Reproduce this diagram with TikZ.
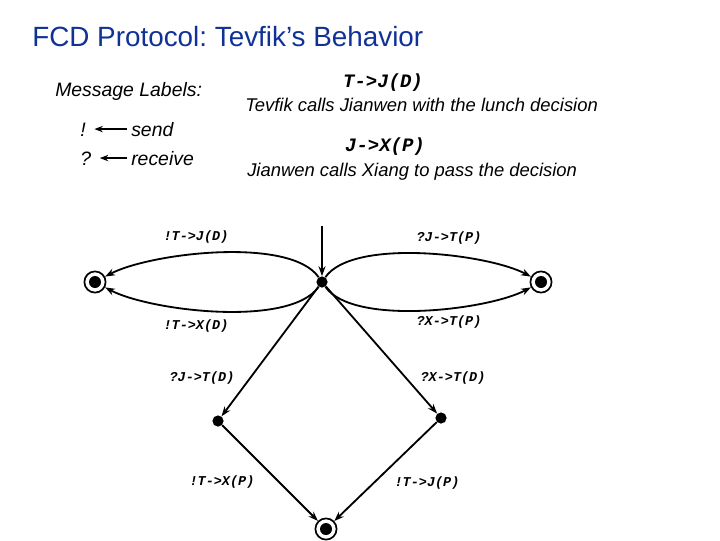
\documentclass[tikz,border=0pt]{standalone}
\usepackage{fontspec}
\setmainfont{Liberation Sans}
\newfontfamily\courier{Liberation Mono}
\usetikzlibrary{arrows.meta}
\definecolor{titleblue}{RGB}{16,50,150}
\frenchspacing

\tikzset{
  state/.style={circle, fill, inner sep=0pt, minimum size=0.28cm},
  final/.style={circle, draw, line width=1.2pt, inner sep=0pt, minimum size=0.53cm,
    path picture={\fill (path picture bounding box.center) circle (0.15cm);}},
  trans/.style={line width=1.3pt, -{Stealth[length=7pt,width=5pt]}},
  msg/.style={font=\courier\bfseries\itshape\fontsize{9.6}{11}\selectfont, inner sep=0pt},
  code/.style={font=\courier\bfseries\itshape\fontsize{13.5}{15}\selectfont, inner sep=0pt, anchor=base},
  txt/.style={font=\itshape\fontsize{13.1}{15}\selectfont, inner sep=0pt, anchor=base west},
  legend/.style={font=\itshape\fontsize{13.8}{16}\selectfont, inner sep=0pt, anchor=base west}
}

\begin{document}
\begin{tikzpicture}[x=0.025cm, y=0.025cm]
\useasboundingbox (0,0) rectangle (720,-540);

% title and legend
\node[inner sep=0pt, anchor=base west, text=titleblue, font=\fontsize{19.8}{22}\selectfont] (title) at (32,-46) {FCD Protocol: Tevfik’s Behavior};
\node[legend] (msglabels) at (55,-96) {Message Labels:};
\node[legend] (bang) at (80,-136) {!};
\node[legend] (send) at (131,-136) {send};
\node[legend] (quest) at (80,-165) {?};
\node[legend] (receive) at (131,-165) {receive};
\draw[line width=1pt, -{Stealth[length=6pt,width=4.5pt]}, shorten <=2.5pt, shorten >=6pt] (send.west) -- (bang.east |- send.west);
\draw[line width=1pt, -{Stealth[length=6pt,width=4.5pt]}, shorten <=2.5pt, shorten >=6pt] (receive.west) -- (quest.east |- receive.west);

\node[code] (tj) at (383,-87) {T->J(D)};
\node[txt] (tjtext) at (245,-111) {Tevfik calls Jianwen with the lunch decision};
\node[code] (jx) at (385,-151) {J->X(P)};
\node[txt] (jxtext) at (247,-176) {Jianwen calls Xiang to pass the decision};

% states
\coordinate (start) at (322,-226);
\node[state] (C) at (322,-282) {};
\node[final] (L) at (95,-282) {};
\node[final] (R) at (541,-282) {};
\node[state] (ML) at (218,-421) {};
\node[state] (MR) at (441,-418) {};
\node[final] (B) at (326,-529) {};

% transitions
\draw[trans] (start) -- (C);
\draw[trans] (C) to[out=125, in=28, looseness=0.6] (L);
\draw[trans] (C) to[out=235, in=-28, looseness=0.6] (L);
\draw[trans] (C) to[out=55, in=152, looseness=0.6] (R);
\draw[trans] (C) to[out=-55, in=208, looseness=0.6] (R);
\draw[trans] (C) -- (ML);
\draw[trans] (C) -- (MR);
\draw[trans] (ML) -- (B);
\draw[trans] (MR) -- (B);

\node[msg] (l1) at (196,-237) {!T->J(D)};
\node[msg] (l2) at (196,-326) {!T->X(D)};
\node[msg] (l3) at (449,-238) {?J->T(P)};
\node[msg] (l4) at (449,-322) {?X->T(P)};
\node[msg] (l5) at (202,-378) {?J->T(D)};
\node[msg] (l6) at (453,-378) {?X->T(D)};
\node[msg] (l7) at (222,-482) {!T->X(P)};
\node[msg] (l8) at (427,-483) {!T->J(P)};

\end{tikzpicture}
\end{document}
